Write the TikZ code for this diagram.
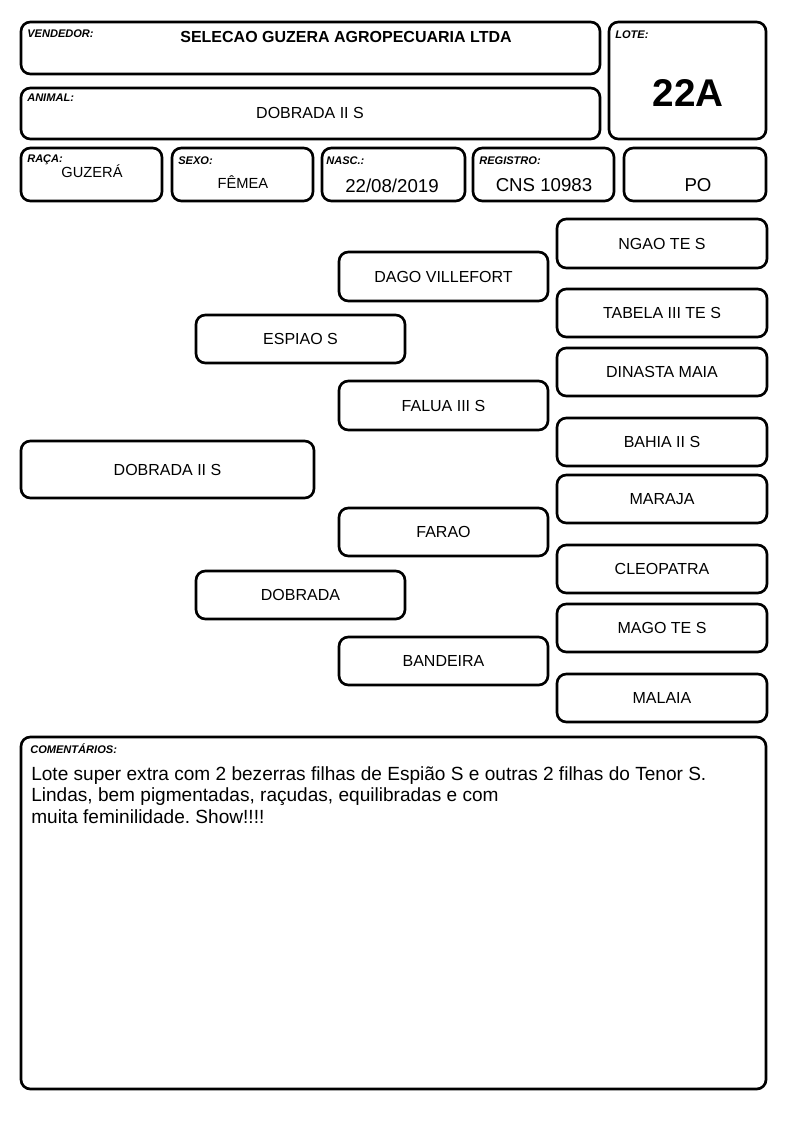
\documentclass[tikz,border=0pt]{standalone}
\usepackage{fontspec}
\setmainfont{Liberation Sans}
\usetikzlibrary{positioning,fit}
\definecolor{ink}{HTML}{000000}
\frenchspacing

\begin{document}
\begin{tikzpicture}[x=0.75pt,y=-0.75pt,font=\fontsize{12}{14}\selectfont,
  box/.style={draw=ink,line width=2pt,rounded corners=7pt,inner sep=0pt},
  tag/.style={anchor=base west,inner sep=0pt,text=ink,font=\fontsize{8.3}{9}\selectfont\bfseries\itshape},
  val/.style={anchor=base,inner sep=0pt,text=ink,font=\fontsize{14}{16}\selectfont}]
  \useasboundingbox (0,0) rectangle (794,1123);
  % header
  \node[box,fit={(21,22) (600,74)}] (vend) {};
  \node[box,fit={(21,88) (600,139)}] (anim) {};
  \node[box,fit={(609,22) (766,139)}] (lote) {};
  \foreach \n/\xa/\xb in {raca/21/162, sexo/172/313, nasc/322/465, reg/473/614, po/624/766}
    \node[box,fit={(\xa,148) (\xb,201)}] (\n) {};
  \node[tag] (vendtag) at (27,38) {VENDEDOR:};
  \node[tag] (animtag) at (27,102) {ANIMAL:};
  \node[tag] (lotetag) at (615,39) {LOTE:};
  \node[tag] (racatag) at (27,163) {RAÇA:};
  \node[tag] (sexotag) at (178,165) {SEXO:};
  \node[tag] (nasctag) at (326,165) {NASC.:};
  \node[tag] (regtag) at (479,165) {REGISTRO:};
  \node[val,font=\fontsize{12}{14}\selectfont\bfseries] (vendval) at (346,43) {SELECAO GUZERA AGROPECUARIA LTDA};
  \node[val,font=\fontsize{12}{14}\selectfont] (animval) at (310,119) {DOBRADA II S};
  \node[val,font=\fontsize{29}{32}\selectfont\bfseries] (loteval) at (688,107) {22A};
  \node[val,font=\fontsize{11}{13}\selectfont] (racaval) at (92,178) {GUZERÁ};
  \node[val,font=\fontsize{11}{13}\selectfont] (sexoval) at (243,189) {FÊMEA};
  \node[val] (nascval) at (392,193) {22/08/2019};
  \node[val] (regval) at (544,192) {CNS 10983};
  \node[val] (poval) at (698,192) {PO};
  % pedigree
  \foreach \id/\xa/\ya/\xb/\yb/\nome in {
      p0/21/441/314/498/{DOBRADA II S},
      p1/196/315/405/363/{ESPIAO S}, p2/196/571/405/619/{DOBRADA},
      p3/339/252/548/301/{DAGO VILLEFORT}, p4/339/381/548/430/{FALUA III S},
      p5/339/508/548/556/{FARAO}, p6/339/637/548/685/{BANDEIRA},
      p7/557/219/767/268/{NGAO TE S}, p8/557/289/767/337/{TABELA III TE S},
      p9/557/348/767/396/{DINASTA MAIA}, p10/557/418/767/466/{BAHIA II S},
      p11/557/475/767/523/{MARAJA}, p12/557/545/767/593/{CLEOPATRA},
      p13/557/604/767/652/{MAGO TE S}, p14/557/674/767/722/{MALAIA}}
    \node[box,fit={(\xa,\ya) (\xb,\yb)},label={[text=ink]center:\nome}] (\id) {};
  % comentarios
  \node[box,fit={(21,737) (766,1089)}] (com) {};
  \node[tag] (comtag) at (30,753) {COMENTÁRIOS:};
  \node[anchor=north west,inner sep=0pt,align=left,text=ink,font=\fontsize{14.3}{16.1}\selectfont] (comtxt) at (31,766)
    {Lote super extra com 2 bezerras filhas de Espião S e outras 2 filhas do Tenor S.\\
     Lindas, bem pigmentadas, raçudas, equilibradas e com\\
     muita feminilidade. Show!!!!};
\end{tikzpicture}
\end{document}
